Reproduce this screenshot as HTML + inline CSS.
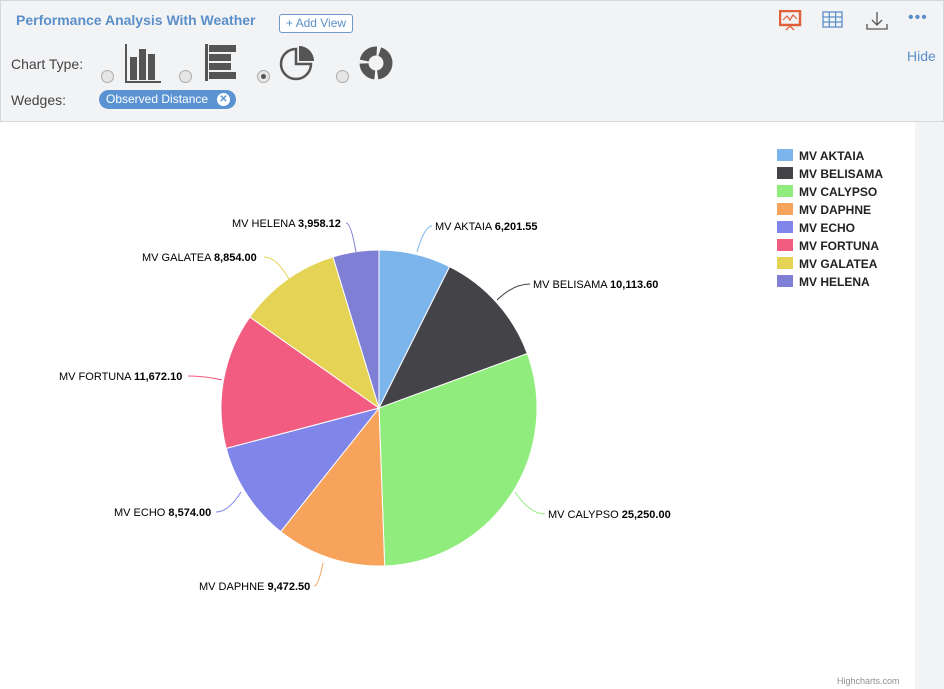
<!DOCTYPE html>
<html><head><meta charset="utf-8"><style>
body{margin:0;width:944px;height:689px;overflow:hidden;font-family:"Liberation Sans",sans-serif;background:#fff;position:relative}
.top{position:absolute;left:0;top:0;width:942px;height:40px;background:#f2f3f5;border:1px solid #d4d6da;border-bottom:1px solid #cfd2d6}
.ctl{position:absolute;left:0;top:41px;width:942px;height:80px;background:#f2f3f5;border:1px solid #d4d6da;border-top:none}
.t{position:absolute;left:15px;top:11px;color:#5b8fc9;font-weight:bold;font-size:14px}
.add{position:absolute;left:278px;top:13px;width:72px;height:17px;border:1px solid #6f9acb;border-radius:3px;color:#5b8fc9;font-size:12px;text-align:center;line-height:17px;background:#fff}
.lbl{position:absolute;color:#444;font-size:14px}
.radio{position:absolute;width:11px;height:11px;border-radius:50%;border:1px solid #aaa;background:#e6e6e6}
.chip{position:absolute;left:98px;top:49px;width:137px;height:19px;border-radius:10px;background:#5b93d2;color:#fff;font-size:12px;line-height:19px;padding-left:7px;box-sizing:border-box}
.chip b{position:absolute;right:6px;top:3px;width:13px;height:13px;border-radius:50%;background:#fff;color:#5b93d2;font-size:10px;line-height:13px;text-align:center}
.side{position:absolute;left:915px;top:122px;width:29px;height:567px;background:#f2f3f5}
</style></head><body>
<div class="top"><div class="t">Performance Analysis With Weather</div><div class="add">+ Add View</div>
<svg style="position:absolute;left:778px;top:9px" width="24" height="22"><rect x="1" y="1" width="20" height="14" fill="none" stroke="#e0603a" stroke-width="2.5"/><polyline points="4,10 8,6 11,10 14,5 18,9" fill="none" stroke="#e0603a" stroke-width="1.2"/><path d="M7,20 L11,16 L15,20" fill="none" stroke="#e0603a" stroke-width="1.3"/></svg>
<svg style="position:absolute;left:821px;top:10px" width="22" height="18"><rect x="1" y="1" width="19" height="15" fill="none" stroke="#5b8fc9" stroke-width="1.3"/><path d="M1,6H20M1,11H20M7.3,1V16M13.6,1V16" stroke="#5b8fc9" stroke-width="1.2"/></svg>
<svg style="position:absolute;left:864px;top:9px" width="24" height="22"><path d="M12,2V15M7,10L12,15L17,10M2,14V19H22V14" fill="none" stroke="#555" stroke-width="1.3"/></svg>
<div style="position:absolute;left:907px;top:8px;color:#5b8fc9;font-size:16px;letter-spacing:1px">•••</div>
</div>
<div class="ctl">
<div class="lbl" style="left:10px;top:15px">Chart Type:</div>
<div class="lbl" style="left:10px;top:51px">Wedges:</div>
<div style="position:absolute;left:906px;top:7px;color:#5b8fc9;font-size:14px">Hide</div>
<div class="radio" style="left:100px;top:29px"></div>
<div class="radio" style="left:178px;top:29px"></div>
<div class="radio" style="left:256px;top:29px"><div style="width:5px;height:5px;border-radius:50%;background:#555;margin:3px"></div></div>
<div class="radio" style="left:335px;top:29px"></div>
<svg style="position:absolute;left:123px;top:3px" width="38" height="40"><path d="M2,0V38H37" stroke="#555" stroke-width="2" fill="none"/><rect x="6" y="13" width="7" height="23" fill="#555"/><rect x="15" y="5" width="7" height="31" fill="#555"/><rect x="24" y="10" width="7" height="26" fill="#555"/></svg>
<svg style="position:absolute;left:204px;top:3px" width="32" height="38"><rect x="0" y="0" width="3" height="37" fill="#555"/><rect x="4" y="1" width="27" height="7" fill="#555"/><rect x="4" y="10" width="22" height="7" fill="#555"/><rect x="4" y="19" width="22" height="7" fill="#555"/><rect x="4" y="28" width="27" height="7" fill="#555"/></svg>
<svg style="position:absolute;left:278px;top:3px" width="38" height="38"><path d="M17,5 A15,15 0 1 0 32,20 L17,20Z" fill="none" stroke="#555" stroke-width="2.5"/><path d="M20,2 A15,15 0 0 1 35,17 L20,17Z" fill="#555"/></svg>
<svg style="position:absolute;left:357px;top:4px" width="38" height="36"><circle cx="18" cy="18" r="12" fill="none" stroke="#555" stroke-width="9" stroke-dasharray="17 3"/></svg>
<div class="chip">Observed Distance<b>✕</b></div>
</div>
<div class="side"></div>
<svg id="c" style="position:absolute;left:0;top:0" width="944" height="689"></svg>
<div style="position:absolute;left:837px;top:676px;font-size:9px;color:#909090">Highcharts.com</div>
<script>
var d=[["MV AKTAIA",6201.55,"#7cb5ec","6,201.55",435,226,417,252,432,226],
["MV BELISAMA",10113.60,"#434348","10,113.60",533,284,497,300,530,284],
["MV CALYPSO",25250,"#90ed7d","25,250.00",548,514,515,492,545,514],
["MV DAPHNE",9472.5,"#f7a35c","9,472.50",199,586,323,563,314,586],
["MV ECHO",8574,"#8085e9","8,574.00",114,512,241,492,216,512],
["MV FORTUNA",11672.10,"#f15c80","11,672.10",59,376,222,380,188,376],
["MV GALATEA",8854,"#e4d354","8,854.00",142,257,290,281,264,257],
["MV HELENA",3958.12,"#8085e9","3,958.12",232,223,356,252,346,223]];
d[7][2]="#7f7fd6";
var tot=0;d.forEach(function(e){tot+=e[1]});
var cx=379,cy=408,r=158,a=-Math.PI/2,s="";
d.forEach(function(e,i){var b=a+e[1]/tot*2*Math.PI;
var x1=cx+r*Math.cos(a),y1=cy+r*Math.sin(a),x2=cx+r*Math.cos(b),y2=cy+r*Math.sin(b);
s+='<path d="M'+cx+','+cy+'L'+x1+','+y1+'A'+r+','+r+' 0 '+(b-a>Math.PI?1:0)+' 1 '+x2+','+y2+'Z" fill="'+e[2]+'" stroke="#fff" stroke-width="1"/>';
a=b;
var tx=e[4],ty=e[5];
s+='<path d="M'+e[6]+','+e[7]+' Q'+((e[6]+e[8])/2)+','+e[9]+' '+e[8]+','+e[9]+'" fill="none" stroke="'+e[2]+'" stroke-width="1"/>';
s+='<text x="'+tx+'" y="'+(ty+4)+'" font-size="11" fill="#000" font-family="Liberation Sans,sans-serif">'+e[0]+' <tspan font-weight="bold">'+e[3]+'</tspan></text>';
var ly=155+i*18;
s+='<rect x="777" y="'+(ly-6)+'" width="16" height="12" fill="'+e[2]+'"/><text x="799" y="'+(ly+5)+'" font-size="12" font-weight="bold" fill="#222" font-family="Liberation Sans,sans-serif">'+e[0]+'</text>';
});
document.getElementById("c").innerHTML=s;
</script>
</body></html>
